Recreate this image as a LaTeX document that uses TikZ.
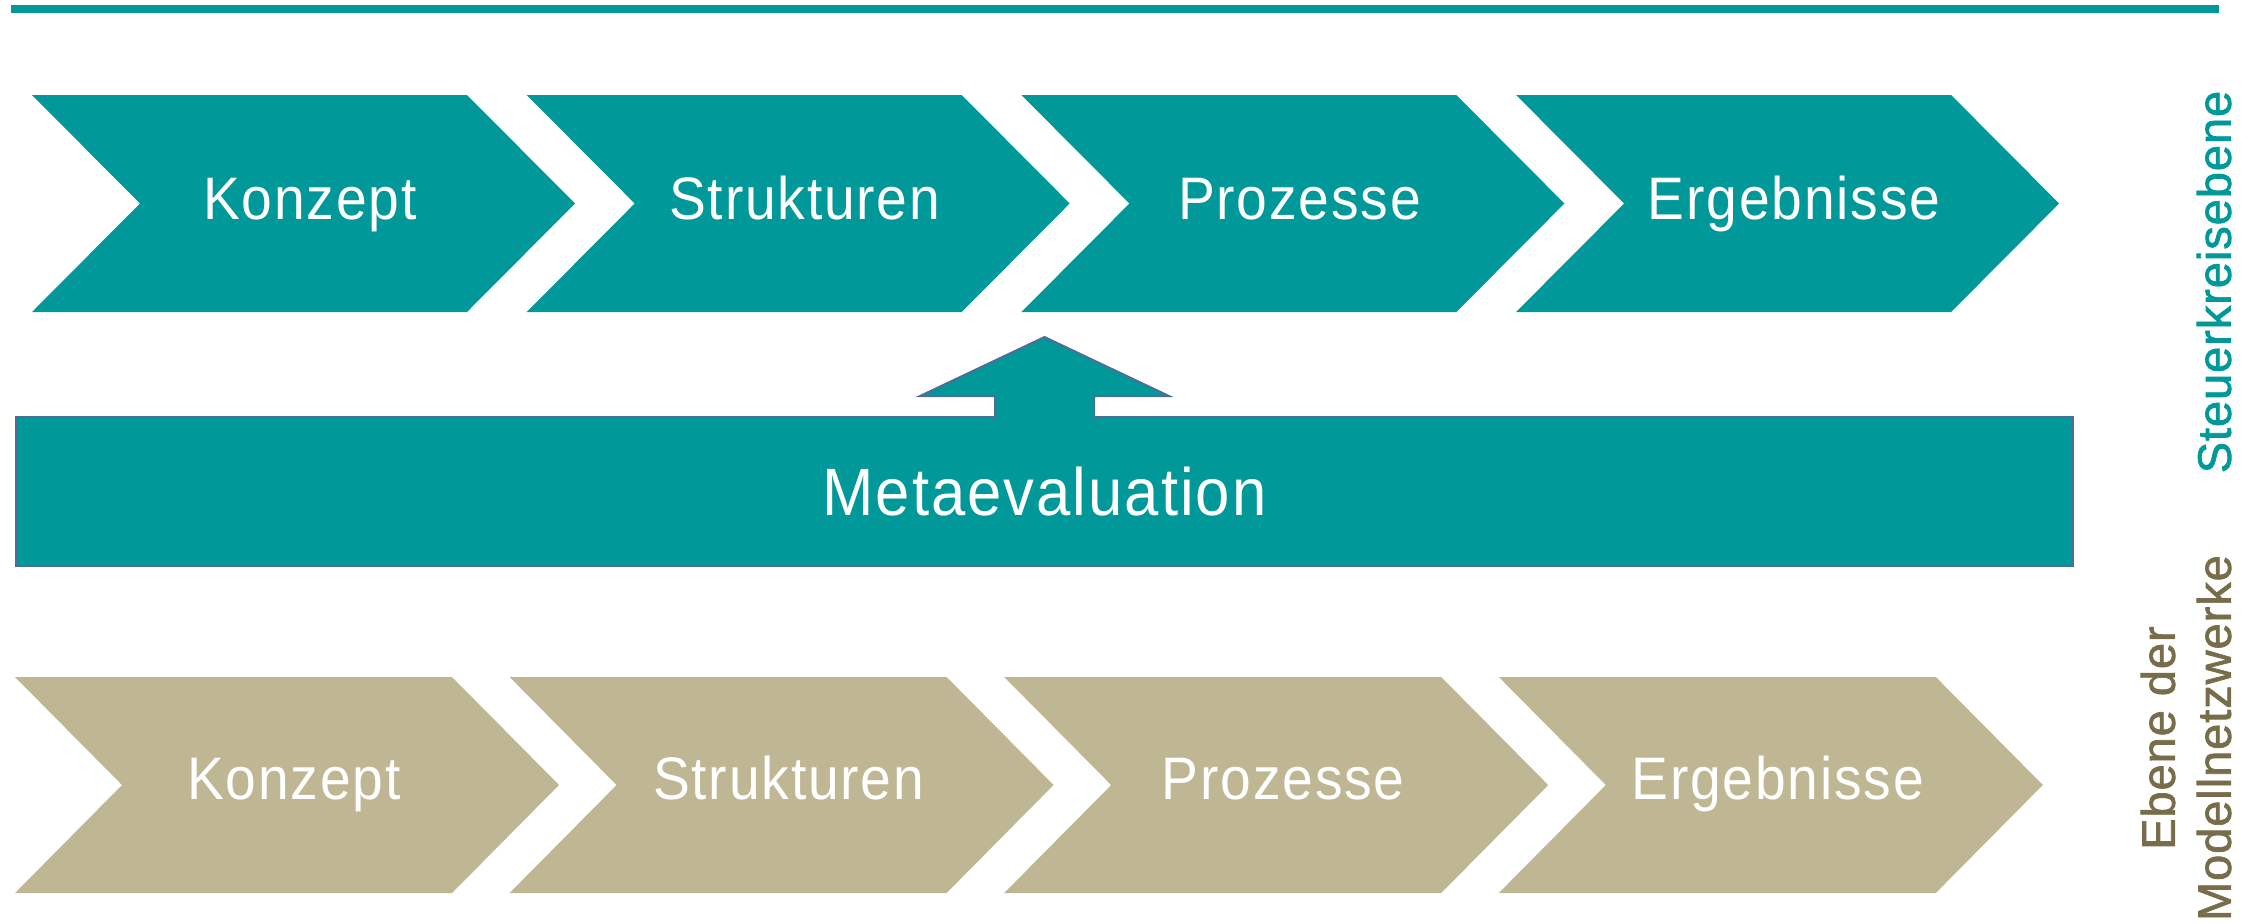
\documentclass[tikz,border=0pt]{standalone}
\usepackage{fontspec}
\setmainfont{Liberation Sans}
\newfontfamily\lblfont[FakeStretch=0.92, LetterSpace=3]{Liberation Sans}
\newfontfamily\sidefont[FakeBold=1.5, LetterSpace=2]{Liberation Sans}
\definecolor{tealA}{RGB}{0,152,153}
\definecolor{sandA}{RGB}{191,183,148}
\definecolor{oliveT}{RGB}{119,109,74}
\definecolor{edgeB}{RGB}{79,108,153}
\begin{document}
\begin{tikzpicture}[x=0.5pt,y=-0.5pt,
  lbl/.style={text=white, font=\lblfont\fontsize{30}{36}\selectfont, anchor=base, inner sep=0pt},
  metabox/.style={fill=tealA, draw=edgeB, line width=1pt, text=white,
    font=\lblfont\fontsize{33.5}{40}\selectfont, minimum width=1028.5pt, minimum height=74.5pt, inner sep=0pt},
  sidelbl/.style={rotate=90, font=\sidefont\fontsize{23.5}{28}\selectfont, align=center, inner sep=0pt}]
\useasboundingbox (0,0) rectangle (2259,923);
% top rule
\fill[tealA] (11,5) rectangle (2219,13);
% upper row
\foreach \i/\t in {0/Konzept,1/Strukturen,2/Prozesse,3/Ergebnisse}{
  \pgfmathsetmacro\xa{32+494.7*\i}
  \fill[tealA] (\xa,95) -- ++(435,0) -- ++(108,108.5) -- ++(-108,108.5) -- ++(-435,0) -- ++(108,-108.5) -- cycle;
  \node[lbl] (top\i) at (\xa+278,219) {\t};
}
% metaevaluation
\node[metabox] (meta) at (1044.5,491.5) {Metaevaluation};
\filldraw[fill=tealA, draw=edgeB, line width=1pt] (995,419) -- (995,396) -- (920,396) -- (1044.5,337) -- (1169,396) -- (1094,396) -- (1094,419);
% lower row
\foreach \i/\t in {0/Konzept,1/Strukturen,2/Prozesse,3/Ergebnisse}{
  \pgfmathsetmacro\xa{15+494.6*\i}
  \fill[sandA] (\xa,677) -- ++(437,0) -- ++(107,108) -- ++(-107,108) -- ++(-437,0) -- ++(107,-108) -- cycle;
  \node[lbl] (bot\i) at (\xa+279,799) {\t};
}
% side labels
\node[sidelbl, text=tealA] (lvlA) at (2214,282) {Steuerkreisebene};
\node[sidelbl, text=oliveT] (lvlB) at (2186,738) {Ebene der\\Modellnetzwerke};
\end{tikzpicture}
\end{document}
